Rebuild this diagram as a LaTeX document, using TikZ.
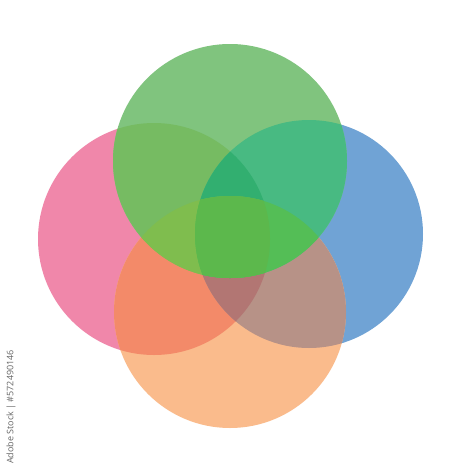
\documentclass[tikz,border=0pt]{standalone}
\usepackage{fontspec}
\setmainfont{Open Sans}
\definecolor{cP}{RGB}{240,135,170}
\definecolor{cB}{RGB}{112,163,213}
\definecolor{cO}{RGB}{250,187,140}
\definecolor{cG}{RGB}{128,196,126}
\definecolor{cPO}{RGB}{243,138,105}
\definecolor{cBO}{RGB}{183,146,135}
\definecolor{cPBO}{RGB}{178,118,115}
\definecolor{cGP}{RGB}{118,187,98}
\definecolor{cGB}{RGB}{72,186,130}
\definecolor{cGPB}{RGB}{50,175,112}
\definecolor{cGPO}{RGB}{127,189,78}
\definecolor{cGBO}{RGB}{84,190,86}
\definecolor{cGPBO}{RGB}{92,184,76}
\newcommand\circP{(154,239) circle (116)}
\newcommand\circB{(309,234) circle (114)}
\newcommand\circO{(230,312) circle (116)}
\newcommand\circG{(230,161) circle (117)}
\begin{document}
\begin{tikzpicture}[x=1pt,y=-1pt]
\useasboundingbox[fill=white] (0,0) rectangle (474,474);
\fill[cP] \circP;
\fill[cB] \circB;
\fill[cO] \circO;
\fill[cG] \circG;
\begin{scope}\clip \circP; \fill[cPO] \circO; \end{scope}
\begin{scope}\clip \circB; \fill[cBO] \circO; \end{scope}
\begin{scope}\clip \circP; \clip \circB; \fill[cPBO] \circO; \end{scope}
\begin{scope}\clip \circP; \fill[cGP] \circG; \end{scope}
\begin{scope}\clip \circB; \fill[cGB] \circG; \end{scope}
\begin{scope}\clip \circP; \clip \circB; \fill[cGPB] \circG; \end{scope}
\begin{scope}\clip \circP; \clip \circO; \fill[cGPO] \circG; \end{scope}
\begin{scope}\clip \circB; \clip \circO; \fill[cGBO] \circG; \end{scope}
\begin{scope}\clip \circP; \clip \circB; \clip \circO; \fill[cGPBO] \circG; \end{scope}
\node[rotate=90, text=black!60, font=\fontsize{9}{10}\selectfont] (wm) at (11,407) {Adobe Stock | \#572490146};
\end{tikzpicture}
\end{document}
